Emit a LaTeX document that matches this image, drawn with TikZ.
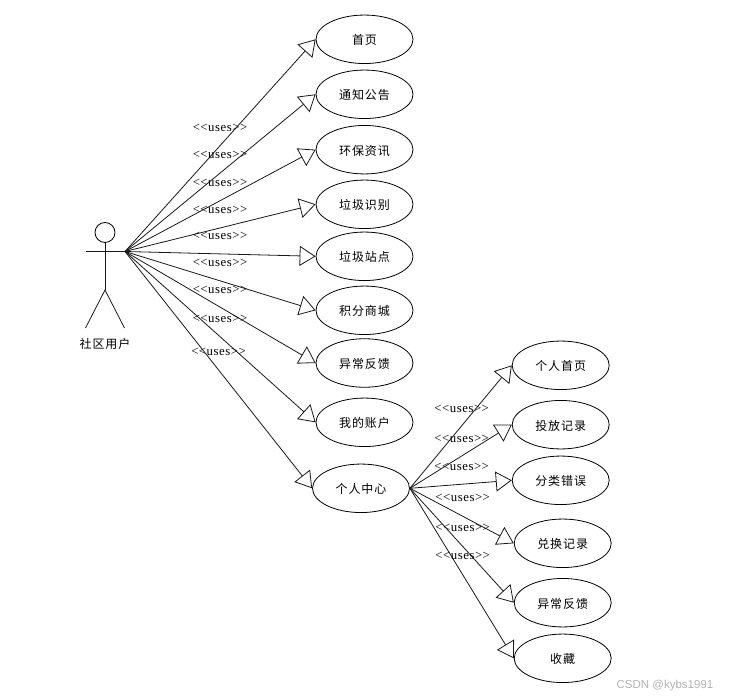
\documentclass[tikz,border=0pt]{standalone}
\usepackage{fontspec}
\setmainfont{Liberation Serif}
\newfontfamily\cjk[LetterSpace=8]{Noto Sans CJK SC}
\newfontfamily\wm{Liberation Sans}
\newfontfamily\usesfont[LetterSpace=4]{Liberation Serif}
\usetikzlibrary{arrows.meta,shapes.geometric}
\tikzset{
  uc/.style={draw,ellipse,minimum width=97pt,minimum height=48.5pt,inner sep=0pt,line width=.8pt,text height=11.5pt,text depth=.5pt,font=\cjk\fontsize{12}{14}\selectfont},
  assoc/.style={draw=black!90,line width=.8pt,-{Triangle[open,length=16pt,width=20pt,line width=.8pt]}},
  uses/.style={font=\usesfont\fontsize{12.8}{14}\selectfont,inner sep=0pt},
  actorline/.style={draw=black!90,line width=.8pt}
}
\begin{document}
\begin{tikzpicture}[x=1pt,y=-1pt]
\useasboundingbox (0,0) rectangle (731,698);
% actor
\node[circle,draw,line width=.8pt,minimum size=20pt,inner sep=0pt] (head) at (105,232.5) {};
\coordinate (handL) at (85.5,251.5);
\coordinate (hand) at (125,251.5);
\coordinate (neck) at (105,251.5);
\coordinate (hip) at (105,290);
\coordinate (footL) at (85.5,328);
\coordinate (footR) at (124.5,328);
\draw[actorline] (head.south) -- (hip);
\draw[actorline] (handL) -- (hand);
\draw[actorline] (footL) -- (hip) -- (footR);
\node[font=\cjk\fontsize{12}{14}\selectfont,inner sep=0pt] (actorlabel) at (105,343.5) {社区用户};
% use cases
\node[uc] (a1) at (364.5,39.3) {首页};
\node[uc] (a2) at (364.5,94.3) {通知公告};
\node[uc] (a3) at (364.5,149.7) {环保资讯};
\node[uc] (a4) at (364.5,204.3) {垃圾识别};
\node[uc] (a5) at (364.5,256.3) {垃圾站点};
\node[uc] (a6) at (364.5,310.3) {积分商城};
\node[uc] (a7) at (364.5,363) {异常反馈};
\node[uc] (a8) at (364.5,422.3) {我的账户};
\node[uc] (a9) at (361,488.3) {个人中心};
\node[uc] (b1) at (560.7,365.3) {个人首页};
\node[uc] (b2) at (560.7,424.7) {投放记录};
\node[uc] (b3) at (560.7,480.3) {分类错误};
\node[uc] (b4) at (562.7,543.3) {兑换记录};
\node[uc] (b5) at (562.7,602.7) {异常反馈};
\node[uc] (b6) at (562.7,658.3) {收藏};
% connectors
\foreach \t in {a1,a2,a3,a4,a5,a6,a7,a8,a9} \draw[assoc] (hand) -- (\t.west);
\foreach \t in {b1,b2,b3,b4,b5,b6} \draw[assoc] (a9.east) -- (\t.west);
% labels
\node[uses] (l1) at (220,128) {<{}<uses>{}>};
\node[uses] (l2) at (220,155) {<{}<uses>{}>};
\node[uses] (l3) at (220,183) {<{}<uses>{}>};
\node[uses] (l4) at (220,210) {<{}<uses>{}>};
\node[uses] (l5) at (220,236) {<{}<uses>{}>};
\node[uses] (l6) at (220,263) {<{}<uses>{}>};
\node[uses] (l7) at (220,290) {<{}<uses>{}>};
\node[uses] (l8) at (220,319) {<{}<uses>{}>};
\node[uses] (l9) at (218.5,352) {<{}<uses>{}>};
\node[uses] (m1) at (461.7,408.7) {<{}<uses>{}>};
\node[uses] (m2) at (461.7,439) {<{}<uses>{}>};
\node[uses] (m3) at (461.7,467) {<{}<uses>{}>};
\node[uses] (m4) at (462.7,498) {<{}<uses>{}>};
\node[uses] (m5) at (462.7,528) {<{}<uses>{}>};
\node[uses] (m6) at (462.7,556) {<{}<uses>{}>};
% watermark
\node[font=\wm\fontsize{11.5}{14}\selectfont,text=black!30,inner sep=0pt] (wm) at (665,685.5) {CSDN @kybs1991};
\end{tikzpicture}
\end{document}
